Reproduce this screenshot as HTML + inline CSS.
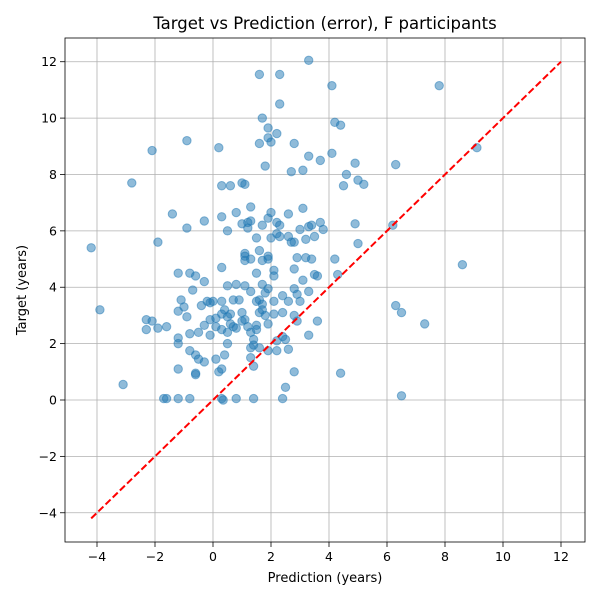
<!DOCTYPE html>
<html><head><meta charset="utf-8"><style>
body{margin:0;background:#fff;font-family:"Liberation Sans","DejaVu Sans",sans-serif;}
svg text{font-family:"DejaVu Sans","Liberation Sans",sans-serif;}
</style></head><body>
<svg id="chart" width="600" height="600" xmlns="http://www.w3.org/2000/svg"></svg>
<script>
const xTicks=[-4,-2,0,2,4,6,8,10,12];
const yTicks=[-4,-2,0,2,4,6,8,10,12];
const predX=[-4.2,-3.9,-3.1,-2.8,-2.1,-2.3,-2.3,-2.1,-1.9,-1.9,-1.6,-1.7,-1.6,-1.4,-1.2,-1.1,-1.0,-1.2,-1.2,-1.2,-1.2,-1.2,-0.9,-0.9,-0.8,-0.7,-0.6,-0.9,-0.8,-0.8,-0.6,-0.6,-0.6,-0.8,-0.5,-0.5,-0.4,-0.3,-0.3,-0.3,-0.3,-0.2,-0.1,-0.1,-0.1,0.0,0.1,0.1,0.1,0.2,0.2,0.3,0.3,0.3,0.3,0.3,0.3,0.3,0.3,0.35,0.4,0.4,0.5,0.5,0.5,0.5,0.6,0.5,0.6,0.6,0.7,0.7,0.8,0.8,0.8,0.8,0.9,1.0,1.0,1.0,1.0,1.1,1.1,1.1,1.1,1.1,1.1,1.2,1.2,1.3,1.3,1.3,1.3,1.2,1.3,1.3,1.3,1.4,1.4,1.4,1.4,1.5,1.5,1.5,1.5,1.5,1.6,1.6,1.6,1.6,1.6,1.6,1.7,1.7,1.7,1.7,1.7,1.7,1.8,1.8,1.8,1.9,1.9,1.9,1.9,1.9,1.9,1.9,1.9,2.0,2.0,2.0,2.1,2.1,2.1,2.1,2.2,2.2,2.2,2.2,2.2,2.3,2.3,2.3,2.3,2.4,2.4,2.4,2.5,2.5,2.4,2.6,2.6,2.6,2.6,2.7,2.7,2.8,2.8,2.8,2.8,2.8,2.8,2.9,2.9,2.9,3.0,3.0,3.1,3.1,3.1,3.2,3.2,3.3,3.3,3.3,3.3,3.3,3.4,3.4,3.5,3.6,3.5,3.6,3.7,3.7,3.8,4.1,4.1,4.2,4.2,4.3,4.4,4.4,4.5,4.6,4.9,4.9,5.0,5.0,5.2,6.3,6.2,6.3,6.5,6.5,7.3,7.8,8.6,9.1];
const targetY=[5.4,3.2,0.55,7.7,8.85,2.5,2.85,2.8,5.6,2.55,2.6,0.05,0.05,6.6,4.5,3.55,3.3,3.15,2.2,2.0,1.1,0.05,9.2,6.1,4.5,3.9,4.4,2.95,2.35,1.75,1.6,0.95,0.9,0.05,1.45,2.4,3.35,4.2,6.35,2.65,1.35,3.5,3.45,2.85,2.3,3.5,2.9,2.6,1.45,1.0,8.95,7.6,6.5,4.7,3.5,3.05,2.5,1.1,0.05,0.0,1.6,3.2,4.05,2.95,2.4,2.0,7.6,6.0,3.05,2.7,3.55,2.6,6.65,4.1,2.55,0.05,3.55,7.7,6.25,3.1,2.8,7.65,5.2,5.1,4.95,4.05,2.85,6.3,6.1,6.85,6.35,5.0,3.85,2.6,2.4,1.85,1.5,2.15,1.2,1.95,0.05,4.5,3.5,2.65,2.5,5.75,11.55,9.1,5.3,3.55,3.1,1.85,10.0,6.2,4.95,4.1,3.4,3.2,8.3,3.0,3.8,9.65,9.3,6.45,5.1,5.0,3.95,2.7,1.75,9.15,6.65,5.75,4.6,4.4,3.5,3.05,2.1,1.75,5.9,6.3,9.45,11.55,10.5,6.2,5.8,2.25,3.1,3.7,2.15,0.45,0.05,1.8,3.5,5.8,6.6,8.1,5.6,9.1,5.6,4.65,3.95,3.0,1.0,5.05,3.75,2.8,3.5,6.05,8.15,6.8,4.25,5.05,5.7,12.05,8.65,6.15,3.85,2.3,5.0,6.2,5.8,4.4,4.45,2.8,8.5,6.3,6.05,11.15,8.75,9.85,5.0,4.45,9.75,0.95,7.6,8.0,8.4,6.25,5.55,7.8,7.65,8.35,6.2,3.35,3.1,0.15,2.7,11.15,4.8,8.95];
const diagLine=[-4.2,12];

const NS="http://www.w3.org/2000/svg";
const svg=document.getElementById('chart');
const L=65,R=585,T=38,B=542;
const X=v=>213+v*29;
const Y=v=>400-v*28.19;
function mk(tag,attrs,parent){const e=document.createElementNS(NS,tag);for(const k in attrs)e.setAttribute(k,attrs[k]);(parent||svg).appendChild(e);return e;}

const grid=mk('g',{});


xTicks.forEach(t=>{
  const l=mk('line',{x1:X(t),x2:X(t),y1:T,y2:B,stroke:'#b0b0b0','stroke-width':0.8},grid);
  
  
  const tk=mk('line',{x1:X(t),x2:X(t),y1:B,y2:B+5,stroke:'#000','stroke-width':0.8});
  
  
  const tx=mk('text',{x:X(t),y:B+19,'text-anchor':'middle','font-size':12.5});
  tx.textContent=t<0?'\u2212'+(-t):t;
  
  
});
yTicks.forEach(t=>{
  const l=mk('line',{x1:L,x2:R,y1:Y(t),y2:Y(t),stroke:'#b0b0b0','stroke-width':0.8},grid);
  
  
  const tk=mk('line',{x1:L-5,x2:L,y1:Y(t),y2:Y(t),stroke:'#000','stroke-width':0.8});
  
  
  const tx=mk('text',{x:L-8,y:Y(t)+4.5,'text-anchor':'end','font-size':12.5});
  tx.textContent=t<0?'\u2212'+(-t):t;
  
  
});

const pts=mk('g',{});


predX.forEach((x,i)=>{
  const c=mk('circle',{cx:X(x),cy:Y(targetY[i]),r:4.2,fill:'rgba(31,119,180,0.5)',stroke:'rgba(31,119,180,0.5)','stroke-width':1},pts);
  
  
});

const dl=mk('line',{x1:X(diagLine[0]),y1:Y(diagLine[0]),x2:X(diagLine[1]),y2:Y(diagLine[1]),stroke:'#ff0000','stroke-width':2,'stroke-dasharray':'7,3'});



const fr=mk('rect',{x:L,y:T,width:R-L,height:B-T,fill:'none',stroke:'#000','stroke-width':0.8});



const ti=mk('text',{x:(L+R)/2,y:T-9,'text-anchor':'middle','font-size':16.5});
ti.textContent='Target vs Prediction (error), F participants';


const xl=mk('text',{x:(L+R)/2,y:582,'text-anchor':'middle','font-size':13});
xl.textContent='Prediction (years)';


const yl=mk('text',{x:0,y:0,'text-anchor':'middle','font-size':13,transform:'translate(26,290) rotate(-90)'});
yl.textContent='Target (years)';


</script>
</body></html>
